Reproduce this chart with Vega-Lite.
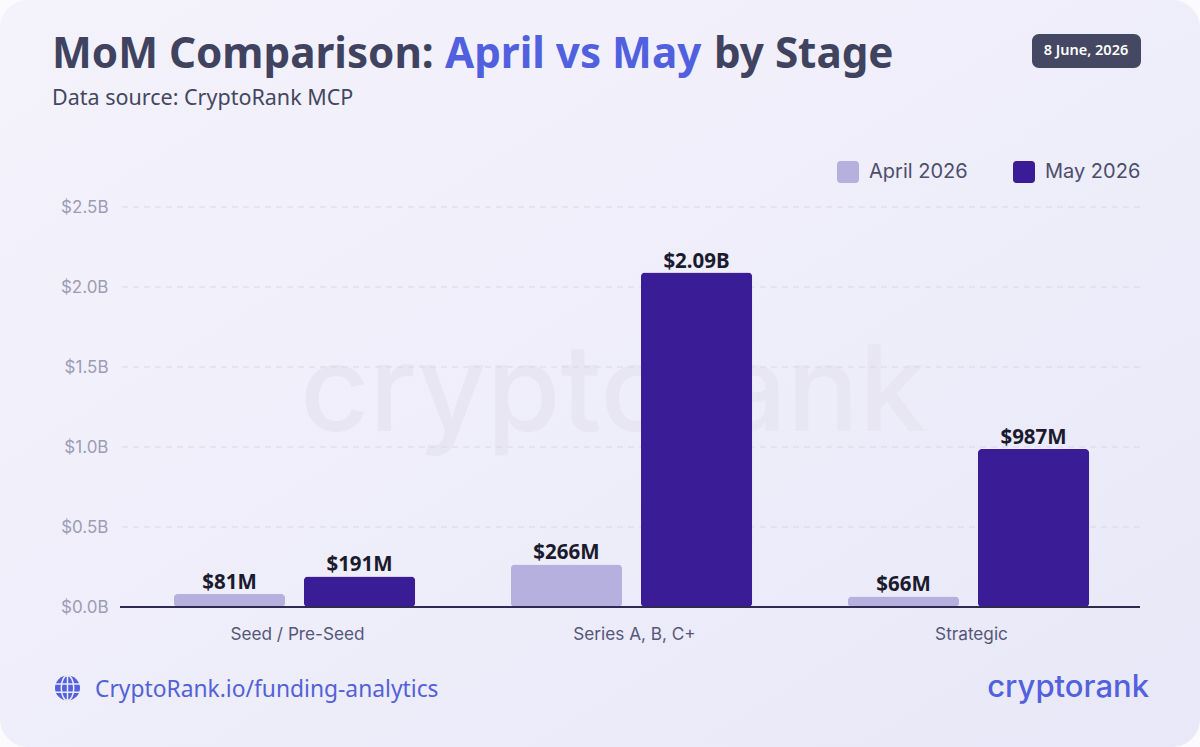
{
  "$schema": "https://vega.github.io/schema/vega-lite/v6.json",
  "width": 1020,
  "height": 400,
  "autosize": {"type": "none"},
  "padding": {"left": 120, "top": 207, "right": 60, "bottom": 140},
  "background": "#fbfbfe",
  "config": {"view": {"stroke": null}},
  "data": {
    "values": [
      {"stage": "Seed / Pre-Seed", "month": "April 2026", "value": 0.081, "label": "$81M"},
      {"stage": "Seed / Pre-Seed", "month": "May 2026", "value": 0.191, "label": "$191M"},
      {"stage": "Series A, B, C+", "month": "April 2026", "value": 0.266, "label": "$266M"},
      {"stage": "Series A, B, C+", "month": "May 2026", "value": 2.09, "label": "$2.09B"},
      {"stage": "Strategic", "month": "April 2026", "value": 0.066, "label": "$66M"},
      {"stage": "Strategic", "month": "May 2026", "value": 0.987, "label": "$987M"}
    ]
  },
  "layer": [
    {
      "data": {"values": [{}]},
      "mark": {
        "type": "rect",
        "cornerRadius": 28,
        "fill": {
          "gradient": "linear",
          "x1": 0,
          "y1": 0,
          "x2": 1,
          "y2": 1,
          "stops": [
            {"offset": 0, "color": "#f4f3fc"},
            {"offset": 1, "color": "#e9e8f8"}
          ]
        }
      },
      "encoding": {
        "x": {"value": -120},
        "x2": {"value": 1080},
        "y": {"value": -207},
        "y2": {"value": 540}
      }
    },
    {
      "data": {"values": [{}]},
      "mark": {
        "type": "text",
        "text": "cryptorank",
        "font": "Inter",
        "fontWeight": 500,
        "fontSize": 120,
        "color": "#e7e6f2",
        "align": "center",
        "baseline": "alphabetic",
        "x": 493,
        "y": 224
      }
    },
    {
      "data": {"values": [{"tick": 0.5}, {"tick": 1}, {"tick": 1.5}, {"tick": 2}, {"tick": 2.5}]},
      "mark": {"type": "rule", "color": "#d9d7ea", "strokeWidth": 1.2, "strokeDash": [6, 5]},
      "encoding": {
        "y": {
          "field": "tick",
          "type": "quantitative",
          "title": null,
          "scale": {"domain": [0, 2.5], "nice": false},
          "axis": {
            "values": [0, 0.5, 1, 1.5, 2, 2.5],
            "labelExpr": "'$' + format(datum.value, '.1f') + 'B'",
            "domain": false,
            "ticks": false,
            "grid": false,
            "labelFont": "Inter",
            "labelFontSize": 17,
            "labelColor": "#9d9cb6",
            "labelPadding": 12,
            "zindex": 1
          }
        }
      }
    },
    {
      "mark": {"type": "bar", "cornerRadius": 4},
      "encoding": {
        "x": {
          "field": "stage",
          "type": "nominal",
          "sort": null,
          "title": null,
          "scale": {"range": [6, 1017], "paddingInner": 0.284, "paddingOuter": 0.142},
          "axis": {
            "domain": false,
            "ticks": false,
            "labelAngle": 0,
            "labelFont": "Inter",
            "labelFontSize": 17.2,
            "labelColor": "#55577a",
            "labelPadding": 18,
            "labelOffset": 3,
            "zindex": 1
          }
        },
        "xOffset": {
          "field": "month",
          "type": "nominal",
          "sort": null,
          "scale": {"paddingInner": 0.145}
        },
        "y": {"field": "value", "type": "quantitative", "title": null},
        "color": {
          "field": "month",
          "type": "nominal",
          "sort": null,
          "scale": {"range": ["#b6b0de", "#391c96"]},
          "legend": {
            "title": null,
            "orient": "none",
            "legendX": 717,
            "legendY": -46,
            "direction": "horizontal",
            "columns": 2,
            "columnPadding": 45,
            "symbolType": "M-.7,-1H.7A.3,.3 0 0 1 1,-.7V.7A.3,.3 0 0 1 .7,1H-.7A.3,.3 0 0 1 -1,.7V-.7A.3,.3 0 0 1 -.7,-1Z",
            "symbolSize": 484,
            "symbolStrokeWidth": 0,
            "symbolOpacity": 1,
            "labelFont": "Inter",
            "labelFontSize": 20,
            "labelColor": "#4c4e6c",
            "labelOffset": 10,
            "labelLimit": 200
          }
        }
      }
    },
    {
      "mark": {"type": "rule", "color": "#2e2a52", "strokeWidth": 2},
      "encoding": {"y": {"datum": 0, "type": "quantitative"}}
    },
    {
      "mark": {
        "type": "text",
        "font": "Noto Sans",
        "fontWeight": 700,
        "fontSize": 20.5,
        "color": "#1b1b2f",
        "baseline": "alphabetic",
        "dy": -5
      },
      "encoding": {
        "x": {"field": "stage", "type": "nominal", "sort": null},
        "xOffset": {"field": "month", "type": "nominal", "sort": null},
        "y": {"field": "value", "type": "quantitative"},
        "text": {"field": "label"}
      }
    },
    {
      "data": {"values": [{}]},
      "layer": [
        {"mark": {"type": "text", "text": "MoM Comparison:", "font": "Noto Sans", "fontWeight": 700, "fontSize": 42.2, "color": "#3f4360", "align": "left", "baseline": "alphabetic", "x": -68, "y": -139}},
        {"mark": {"type": "text", "text": "April vs May", "font": "Noto Sans", "fontWeight": 700, "fontSize": 42.2, "color": "#5160df", "align": "left", "baseline": "alphabetic", "x": 325, "y": -139}},
        {"mark": {"type": "text", "text": "by Stage", "font": "Noto Sans", "fontWeight": 700, "fontSize": 42.2, "color": "#3f4360", "align": "left", "baseline": "alphabetic", "x": 594, "y": -139}},
        {"mark": {"type": "text", "text": "Data source: CryptoRank MCP", "font": "Noto Sans", "fontSize": 21.5, "color": "#44475f", "align": "left", "baseline": "alphabetic", "x": -68, "y": -102}},
        {"mark": {"type": "rect", "cornerRadius": 7, "fill": "#444862"}, "encoding": {"x": {"value": 912}, "x2": {"value": 1021}, "y": {"value": -173}, "y2": {"value": -139}}},
        {"mark": {"type": "text", "text": "8 June, 2026", "font": "Noto Sans", "fontWeight": 600, "fontSize": 14.5, "color": "#ffffff", "align": "center", "baseline": "middle", "x": 966, "y": -156}},
        {"mark": {"type": "point", "shape": "circle", "filled": true, "size": 625, "opacity": 1, "color": "#5361dd", "x": -52.5, "y": 481}},
        {"mark": {"type": "point", "shape": "M-1,-.33H1M-1,.33H1M0,-1V1M0,-1A.5,1 0 0 0 0,1A.5,1 0 0 0 0,-1", "filled": false, "size": 625, "opacity": 1, "stroke": "#ecebf9", "strokeWidth": 1.5, "x": -52.5, "y": 481}},
        {"mark": {"type": "text", "text": "CryptoRank.io/funding-analytics", "font": "Noto Sans", "fontSize": 22.8, "color": "#5361d6", "align": "left", "baseline": "alphabetic", "x": -25, "y": 490}},
        {"mark": {"type": "text", "text": "cryptorank", "font": "Inter", "fontWeight": 500, "fontSize": 31, "color": "#5361dd", "align": "right", "baseline": "alphabetic", "x": 1029, "y": 490}}
      ]
    }
  ]
}
